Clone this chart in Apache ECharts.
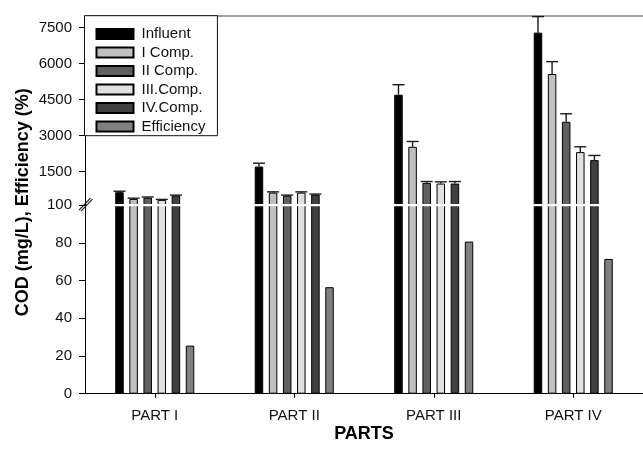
<!DOCTYPE html>
<html>
<head>
<meta charset="utf-8">
<script src="https://cdn.jsdelivr.net/npm/echarts@6/dist/echarts.min.js"></script>
<style>
  html, body { margin: 0; padding: 0; background: #fff; }
  #chart { width: 643px; height: 450px; }
</style>
</head>
<body>
<div id="chart"></div>
<script>
// Categories and series (COD in mg/L, efficiency in %)
const categories = ['PART I', 'PART II', 'PART III', 'PART IV'];
const seriesNames = ['Influent', 'I Comp.', 'II Comp.', 'III.Comp.', 'IV.Comp.', 'Efficiency'];

const influent    = [643, 1712, 4705, 7294];
const influentErr = [40, 140, 418, 668];
const comp1       = [363, 626, 2534, 5570];
const comp1Err    = [30, 30, 223, 515];
const comp2       = [417, 501, 1031, 3578];
const comp2Err    = [25, 20, 56, 334];
const comp3       = [321, 626, 1002, 2313];
const comp3Err    = [20, 30, 70, 223];
const comp4       = [501, 543, 1002, 1979];
const comp4Err    = [20, 20, 84, 195];
const efficiency  = [25.5, 56.5, 80.7, 71.5];

// Tick labels of the two axis segments
const upperTicks = [1500, 3000, 4500, 6000, 7500];
const lowerTicks = [0, 20, 40, 60, 80, 100];

const FONT = "'Liberation Sans', Arial, Helvetica, sans-serif";
const colors = ['#000000', '#c0c0c0', '#606060', '#e0e0e0', '#404040', '#808080'];
const codValues = [influent, comp1, comp2, comp3, comp4];
const codErrors = [influentErr, comp1Err, comp2Err, comp3Err, comp4Err];

const GRID_LEFT = 85;
const GRID_WIDTH = 565;
const BAR_W = 8.5;
const BAR_GAP = 0.66;
const BAR_STEP = BAR_W * (1 + BAR_GAP);
const SLOTS = seriesNames.length;

const chart = echarts.init(document.getElementById('chart'), null, { renderer: 'canvas' });

const barStyle = (i) => ({
  color: colors[i],
  borderColor: '#000',
  borderWidth: 1
});

const series = [];
// Upper segment (axis continues above the break at 100): COD bars, empty efficiency slot
seriesNames.forEach((name, i) => {
  series.push({
    name,
    type: 'bar',
    xAxisIndex: 0,
    yAxisIndex: 0,
    barWidth: BAR_W,
    barGap: (BAR_GAP * 100) + '%',
    clip: true,
    itemStyle: barStyle(i),
    data: i < 5 ? codValues[i] : categories.map(() => null),
    z: 2
  });
});
// Lower segment 0-100: COD bars clipped at 100 plus efficiency
seriesNames.forEach((name, i) => {
  series.push({
    name,
    type: 'bar',
    xAxisIndex: 1,
    yAxisIndex: 1,
    barWidth: BAR_W,
    barGap: (BAR_GAP * 100) + '%',
    clip: true,
    itemStyle: barStyle(i),
    data: i < 5 ? codValues[i] : efficiency,
    z: 2
  });
});

// Upper-side error bars for the COD series
const errData = [];
codValues.forEach((vals, s) => {
  vals.forEach((v, c) => errData.push([c, s, v, codErrors[s][c]]));
});
series.push({
  type: 'custom',
  xAxisIndex: 0,
  yAxisIndex: 0,
  encode: { x: 0, y: 2 },
  z: 5,
  silent: true,
  data: errData,
  renderItem(params, api) {
    const c = api.value(0), s = api.value(1), v = api.value(2), e = api.value(3);
    const p0 = api.coord([c, v]);
    const p1 = api.coord([c, v + e]);
    const x = p0[0] + (s - (SLOTS - 1) / 2) * BAR_STEP;
    const style = { stroke: '#1a1a1a', lineWidth: 1.4 };
    return {
      type: 'group',
      children: [
        { type: 'line', shape: { x1: x, y1: p0[1], x2: x, y2: p1[1] }, style },
        { type: 'line', shape: { x1: x - 6, y1: p1[1], x2: x + 6, y2: p1[1] }, style }
      ]
    };
  }
});

const labelStyle = { fontFamily: FONT, fontSize: 15, color: '#111' };

chart.setOption({
  animation: false,
  backgroundColor: '#fff',
  grid: [
    { left: GRID_LEFT, width: GRID_WIDTH, top: 15.7, height: 189.5 },
    { left: GRID_LEFT, width: GRID_WIDTH, top: 205.2, height: 188.5 }
  ],
  legend: {
    data: seriesNames,
    orient: 'vertical',
    left: 84.5,
    top: 15.7,
    icon: 'rect',
    itemWidth: 37,
    itemHeight: 10,
    itemGap: 0,
    padding: [9, 12, 0, 11],
    borderColor: '#111',
    borderWidth: 1,
    backgroundColor: '#fff',
    selectedMode: false,
    textStyle: { fontFamily: FONT, fontSize: 15, color: '#111', lineHeight: 18.5, padding: [0, 0, 0, 3] },
    z: 10
  },
  xAxis: [
    {
      type: 'category',
      gridIndex: 0,
      data: categories,
      position: 'top',
      axisLine: { show: true, lineStyle: { color: '#808080', width: 1.5 } },
      axisTick: { show: false },
      axisLabel: { show: false },
      splitLine: { show: false }
    },
    {
      type: 'category',
      gridIndex: 1,
      data: categories,
      position: 'bottom',
      axisLine: { show: true, lineStyle: { color: '#000', width: 1.2 } },
      axisTick: { show: true, alignWithLabel: true, length: 4, lineStyle: { color: '#000' } },
      axisLabel: { ...labelStyle, margin: 15 },
      splitLine: { show: false },
      name: 'PARTS',
      nameLocation: 'middle',
      nameGap: 31,
      nameTextStyle: { fontFamily: FONT, fontSize: 18, fontWeight: 'bold', color: '#000' }
    }
  ],
  yAxis: [
    {
      type: 'value',
      gridIndex: 0,
      min: 100,
      max: 8000,
      axisLine: { show: true, lineStyle: { color: '#000', width: 1 } },
      axisTick: { show: true, length: 6, customValues: upperTicks, lineStyle: { color: '#000' } },
      axisLabel: { ...labelStyle, margin: 13, customValues: upperTicks, formatter: (v) => String(v) },
      splitLine: { show: false }
    },
    {
      type: 'value',
      gridIndex: 1,
      min: 0,
      max: 100,
      interval: 20,
      axisLine: { show: true, lineStyle: { color: '#000', width: 1 } },
      axisTick: { show: true, length: 6, customValues: lowerTicks, lineStyle: { color: '#000' } },
      axisLabel: { ...labelStyle, margin: 13, customValues: lowerTicks, formatter: (v) => String(v) },
      splitLine: { show: false }
    }
  ],
  series
});

// Axis title, the white gap through the bars and the break marks on the value axis
const yBreak = chart.convertToPixel({ yAxisIndex: 1 }, 100);
const yTop = chart.convertToPixel({ yAxisIndex: 0 }, 8000);
const yBottom = chart.convertToPixel({ yAxisIndex: 1 }, 0);
const breakStyle = { stroke: '#222', lineWidth: 1.2 };
chart.setOption({
  graphic: [
    {
      type: 'text',
      x: 23,
      y: (yTop + yBottom) / 2 - 2.5,
      rotation: Math.PI / 2,
      style: {
        text: 'COD (mg/L), Efficiency (%)',
        fontFamily: FONT,
        fontSize: 18,
        fontWeight: 'bold',
        fill: '#000',
        align: 'center',
        verticalAlign: 'middle'
      },
      z: 20
    },
    {
      type: 'rect',
      shape: { x: GRID_LEFT + 1, y: yBreak - 1.2, width: GRID_WIDTH, height: 2.2 },
      style: { fill: '#fff' },
      z: 15
    },
    {
      type: 'line',
      shape: { x1: GRID_LEFT - 6, y1: yBreak + 5, x2: GRID_LEFT + 5.5, y2: yBreak - 7 },
      style: breakStyle,
      z: 20
    },
    {
      type: 'line',
      shape: { x1: GRID_LEFT - 4, y1: yBreak + 6, x2: GRID_LEFT + 7.5, y2: yBreak - 6 },
      style: breakStyle,
      z: 20
    }
  ]
});
</script>
</body>
</html>
